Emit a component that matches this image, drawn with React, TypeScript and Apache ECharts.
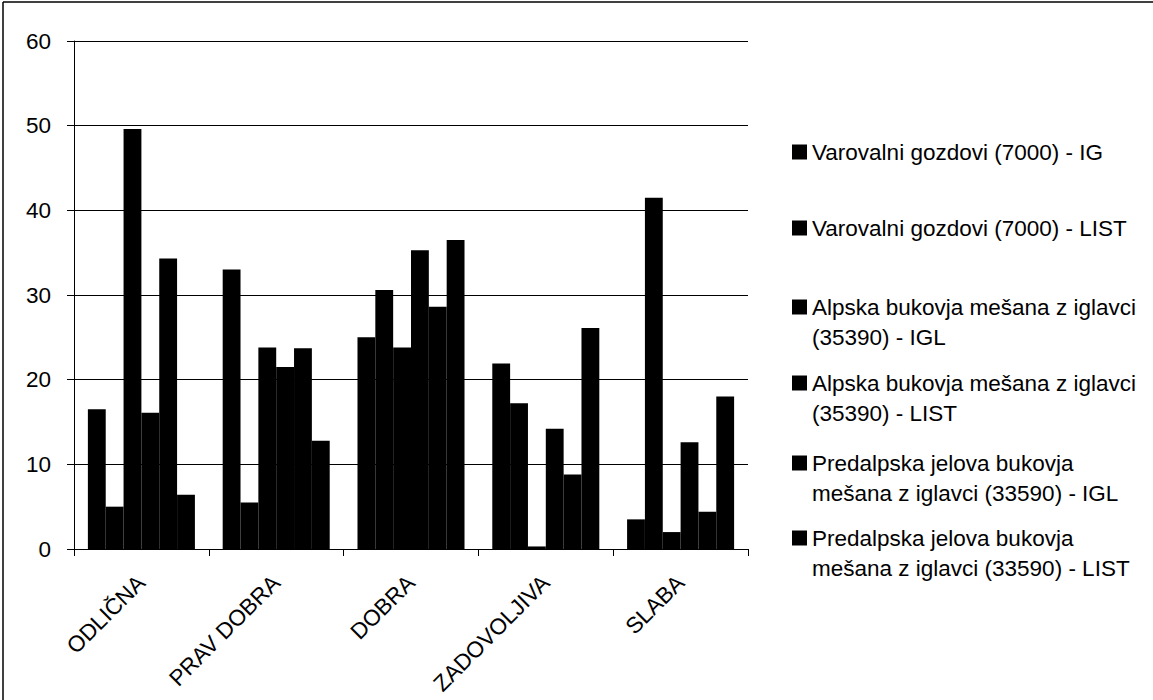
import React, { useEffect, useRef } from "react";
import * as echarts from "echarts";

const categories = ["ODLIČNA", "PRAV DOBRA", "DOBRA", "ZADOVOLJIVA", "SLABA"];
const seriesNames = [
  "Varovalni gozdovi (7000) - IG",
  "Varovalni gozdovi (7000) - LIST",
  "Alpska bukovja mešana z iglavci\n(35390) - IGL",
  "Alpska bukovja mešana z iglavci\n(35390) - LIST",
  "Predalpska jelova bukovja\nmešana z iglavci (33590) - IGL",
  "Predalpska jelova bukovja\nmešana z iglavci (33590) - LIST",
];
const varovalniIG = [16.5, 33.0, 25.0, 21.9, 3.5];
const varovalniLIST = [5.0, 5.5, 30.6, 17.2, 41.5];
const alpskaIGL = [49.6, 23.8, 23.8, 0.3, 2.0];
const alpskaLIST = [16.1, 21.5, 35.3, 14.2, 12.6];
const predalpskaIGL = [34.3, 23.7, 28.6, 8.8, 4.4];
const predalpskaLIST = [6.4, 12.8, 36.5, 26.1, 18.0];
const yTicks = [0, 10, 20, 30, 40, 50, 60];

const seriesValues = [varovalniIG, varovalniLIST, alpskaIGL, alpskaLIST, predalpskaIGL, predalpskaLIST];
const legendFirstLineY = [152, 228, 307, 383, 463, 538];

const FONT = "Liberation Sans";
const FS = 22.5;

export default function App() {
  const ref = useRef<HTMLDivElement>(null);
  useEffect(() => {
    if (!ref.current) return;
    const chart = echarts.init(ref.current, undefined, { renderer: "svg" });
    const LH = 30;
    const legends = seriesNames.map((name, i) => {
      const twoLine = name.indexOf("\n") >= 0;
      return {
        show: true,
        data: [name],
        orient: "vertical",
        left: 792,
        top: twoLine ? legendFirstLineY[i] - 1.5 * LH : legendFirstLineY[i] - LH / 2,
        padding: 0,
        itemWidth: 15,
        itemHeight: 15,
        itemGap: 0,
        icon: "rect",
        selectedMode: false,
        formatter: (n: string) => (n.indexOf("\n") >= 0 ? "\n" + n : n),
        textStyle: {
          fontFamily: FONT,
          fontSize: FS,
          color: "#000",
          lineHeight: LH,
        },
      };
    });
    chart.setOption({
      animation: false,
      backgroundColor: "#fff",
      textStyle: { fontFamily: FONT },
      grid: { left: 74, right: 405, top: 41, bottom: 151, containLabel: false },
      legend: legends,
      graphic: [
        { type: "line", shape: { x1: 3, y1: 2, x2: 3, y2: 700 }, style: { stroke: "#000", lineWidth: 1.5 } },
        { type: "line", shape: { x1: 3, y1: 2, x2: 1153, y2: 2 }, style: { stroke: "#000", lineWidth: 1.5 } },
      ],
      xAxis: {
        type: "category",
        data: categories,
        axisLine: { show: true, lineStyle: { color: "#000", width: 1 } },
        axisTick: { show: true, length: 7, lineStyle: { color: "#000" } },
        axisLabel: {
          rotate: 45,
          margin: 30,
          fontFamily: FONT,
          fontSize: FS,
          color: "#000",
          interval: 0,
        },
      },
      yAxis: {
        type: "value",
        min: yTicks[0],
        max: yTicks[yTicks.length - 1],
        interval: 10,
        axisLine: { show: true, lineStyle: { color: "#000", width: 1 } },
        axisTick: { show: true, length: 7, lineStyle: { color: "#000" } },
        axisLabel: { margin: 23, fontFamily: FONT, fontSize: FS, color: "#000" },
        splitLine: { show: true, lineStyle: { color: "#000", width: 1 } },
      },
      series: seriesNames.map((name, i) => ({
        type: "bar",
        name,
        data: seriesValues[i],
        barGap: "0%",
        barCategoryGap: "20.6%",
        itemStyle: { color: "#000" },
      })),
    });
    return () => chart.dispose();
  }, []);
  return <div ref={ref} style={{ width: 1153, height: 700, position: "absolute", left: 0, top: 0 }} />;
}
